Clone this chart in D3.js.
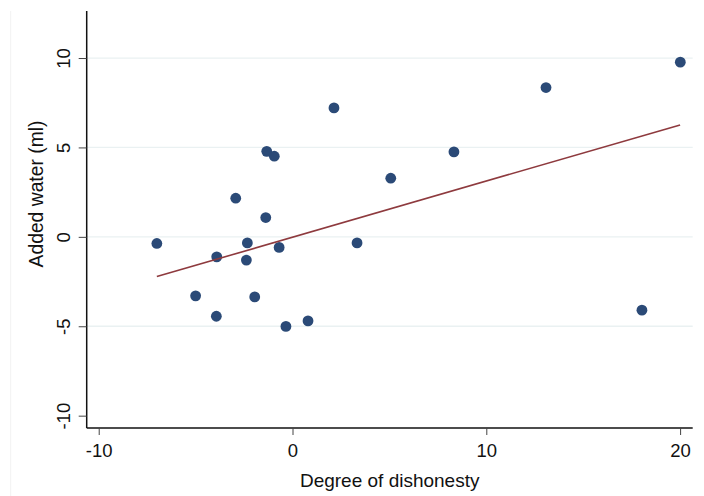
<!DOCTYPE html>
<html>
<head>
<meta charset="utf-8">
<script src="https://cdn.jsdelivr.net/npm/d3@7"></script>
<style>
  body { margin: 0; background: #fff; }
  text { font-family: "Liberation Sans", Arial, Helvetica, sans-serif; fill: #111; }
</style>
</head>
<body>
<div id="vis"></div>
<script>
// dishonesty (x) vs added water (y)
var dishonesty = [-7.0, -5.0, -3.93, -3.91, -2.93, -2.33, -2.38, -1.95, -1.38, -1.33, -0.94,
                  -0.69, -0.34, 0.80, 2.14, 3.33, 5.07, 8.33, 13.08, 18.03, 20.01];
var addedWater = [-0.37, -3.30, -4.44, -1.12, 2.16, -0.34, -1.30, -3.36, 1.08, 4.78, 4.51,
                  -0.59, -5.01, -4.70, 7.21, -0.34, 3.28, 4.75, 8.35, -4.10, 9.77];
// fitted line end points
var fitX = [-7, 20];
var fitY = [-2.22, 6.26];
var xTicks = [-10, 0, 10, 20];
var yTicks = [-10, -5, 0, 5, 10];
var gridTicks = [-5, 0, 5, 10];

var W = 704, H = 496;
var plotLeft = 86.7, plotRight = 692.7, plotTop = 11, plotBottom = 428;

var svg = d3.select("#vis").append("svg")
  .attr("width", W)
  .attr("height", H);

// faint edge line of the original screenshot
svg.append("line")
  .attr("x1", 10.7).attr("x2", 10.7)
  .attr("y1", 11).attr("y2", H)
  .style("stroke", "#f2f2f2").style("stroke-width", 1);

var x = d3.scaleLinear().domain([-10.62, 20.65]).range([plotLeft, plotRight]);
var y = d3.scaleLinear().domain([-10.69, 12.63]).range([plotBottom, plotTop]);

// gridlines
svg.append("g").selectAll("line")
  .data(gridTicks).enter().append("line")
  .attr("x1", plotLeft).attr("x2", plotRight)
  .attr("y1", d => y(d)).attr("y2", d => y(d))
  .style("stroke", "#eaf1f2").style("stroke-width", 1.3);

// points
var pts = dishonesty.map((d, i) => ({x: d, y: addedWater[i]}));
svg.append("g").selectAll("circle")
  .data(pts).enter().append("circle")
  .attr("cx", d => x(d.x))
  .attr("cy", d => y(d.y))
  .attr("r", 5.4)
  .style("fill", "#2b4a77");

// fit line
var line = d3.line()
  .x(d => x(d[0]))
  .y(d => y(d[1]));
svg.append("path")
  .datum(fitX.map((d, i) => [d, fitY[i]]))
  .attr("d", line)
  .style("fill", "none")
  .style("stroke", "#8e3a3e")
  .style("stroke-width", 1.6);

// x axis
var xAxis = svg.append("g")
  .attr("transform", "translate(0," + plotBottom + ")")
  .call(d3.axisBottom(x).tickValues(xTicks).tickFormat(d => String(d))
    .tickSize(7).tickSizeOuter(0).tickPadding(4));
xAxis.select(".domain").attr("d", "M" + plotLeft + ",0H" + plotRight).style("stroke", "#111").style("stroke-width", 1.5);
xAxis.selectAll(".tick line").style("stroke", "#444");
xAxis.selectAll("text").style("font-size", "18.5px").attr("dy", "0.95em");

// y axis
var yAxis = svg.append("g")
  .attr("transform", "translate(" + plotLeft + ",0)")
  .call(d3.axisLeft(y).tickValues(yTicks).tickFormat(d => String(d))
    .tickSize(8).tickSizeOuter(0));
yAxis.select(".domain").attr("d", "M0," + plotTop + "V" + plotBottom).style("stroke", "#111").style("stroke-width", 1.5);
yAxis.selectAll(".tick line").style("stroke", "#444");
yAxis.selectAll("text")
  .style("font-size", "18.5px")
  .attr("x", null).attr("dy", null)
  .attr("text-anchor", "middle")
  .attr("transform", "translate(-16.5,0) rotate(-90)");

// axis titles
svg.append("text")
  .attr("x", (plotLeft + plotRight) / 2)
  .attr("y", 487)
  .attr("text-anchor", "middle")
  .style("font-size", "19px")
  .text("Degree of dishonesty");

svg.append("text")
  .attr("transform", "translate(43,194) rotate(-90)")
  .attr("text-anchor", "middle")
  .style("font-size", "19.3px")
  .text("Added water (ml)");
</script>
</body>
</html>
